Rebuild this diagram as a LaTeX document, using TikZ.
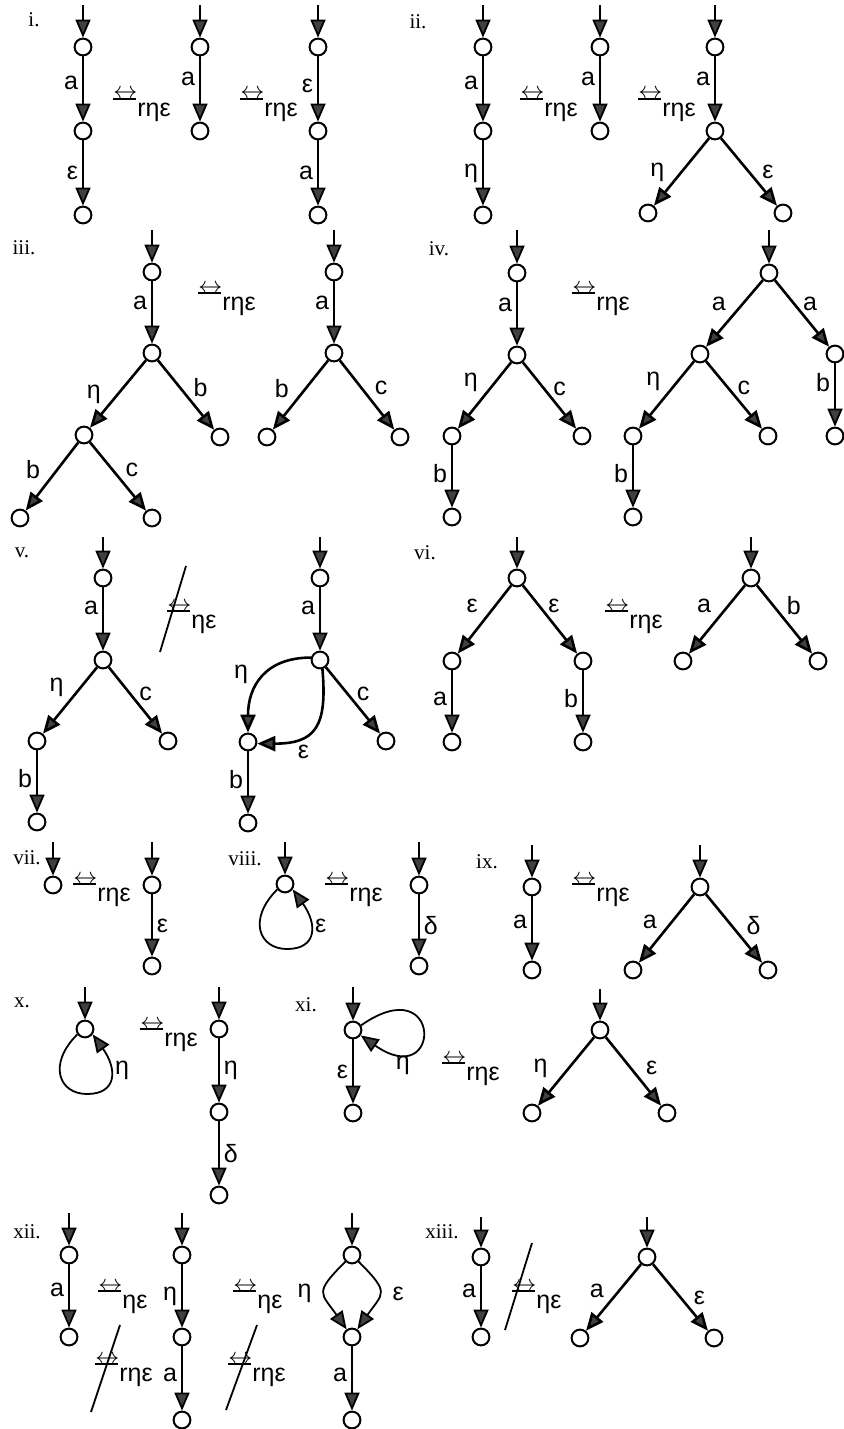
\documentclass[tikz,border=0pt]{standalone}
\usepackage{fontspec}
\setmainfont{Liberation Serif}
\newfontfamily\etichfont{Liberation Sans}
\usetikzlibrary{positioning, arrows.meta}

% simbolo di bisimulazione con pedice
\newcommand{\bisim}[1]{\rlap{\rule[-0.3pt]{11.5pt}{0.6pt}}$\leftrightarrow$\raisebox{-8.7pt}{#1}}

\begin{document}
\begin{tikzpicture}[x=0.5pt, y=-0.5pt,
	stato/.style={circle, draw, line width=1pt, minimum size=8.4pt, inner sep=0pt, fill=white},
	freccia/.style={-{Triangle[length=9pt, width=7.5pt, fill=black!75]}, line width=0.9pt},
	diag/.style={freccia, line width=1.3pt},
	etich/.style={font=\etichfont\fontsize{12.5}{14}\selectfont, inner sep=2pt},
	sez/.style={font=\fontsize{10.5}{12}\selectfont},
	rel/.style={anchor=base west, inner sep=0pt, font=\etichfont\fontsize{12.5}{14}\selectfont},
	barra/.style={line width=0.9pt}]
	\useasboundingbox (0,0) rectangle (843,1429);

	% Sezione i
	\node[sez] (li) at (34,20) {i.};
	\coordinate (ia0) at (83,5);
	\node[stato] (ia1) at (83,47) {};
	\node[stato] (ia2) at (83,131) {};
	\node[stato] (ia3) at (83,215) {};
	\draw[freccia] (ia0) -- (ia1);
	\draw[freccia] (ia1) -- node[etich, left, pos=0.4] {a} (ia2);
	\draw[freccia] (ia2) -- node[etich, left] {ε} (ia3);
	\node[rel] (ri1) at (113,99) {\bisim{rηε}};
	\coordinate (ib0) at (200,5);
	\node[stato] (ib1) at (200,47) {};
	\node[stato] (ib2) at (200,131) {};
	\draw[freccia] (ib0) -- (ib1);
	\draw[freccia] (ib1) -- node[etich, left, pos=0.35] {a} (ib2);
	\node[rel] (ri2) at (240,99) {\bisim{rηε}};
	\coordinate (ic0) at (318,5);
	\node[stato] (ic1) at (318,47) {};
	\node[stato] (ic2) at (318,131) {};
	\node[stato] (ic3) at (318,215) {};
	\draw[freccia] (ic0) -- (ic1);
	\draw[freccia] (ic1) -- node[etich, left, pos=0.45] {ε} (ic2);
	\draw[freccia] (ic2) -- node[etich, left] {a} (ic3);

	% Sezione ii
	\node[sez] (lii) at (418,22) {ii.};
	\coordinate (iid0) at (483,5);
	\node[stato] (iid1) at (483,47) {};
	\node[stato] (iid2) at (483,131) {};
	\node[stato] (iid3) at (483,215) {};
	\draw[freccia] (iid0) -- (iid1);
	\draw[freccia] (iid1) -- node[etich, left, pos=0.4] {a} (iid2);
	\draw[freccia] (iid2) -- node[etich, left] {η} (iid3);
	\node[rel] (rii1) at (520,99) {\bisim{rηε}};
	\coordinate (iie0) at (600,5);
	\node[stato] (iie1) at (600,47) {};
	\node[stato] (iie2) at (600,131) {};
	\draw[freccia] (iie0) -- (iie1);
	\draw[freccia] (iie1) -- node[etich, left, pos=0.35] {a} (iie2);
	\node[rel] (rii2) at (638,99) {\bisim{rηε}};
	\coordinate (iif0) at (715,5);
	\node[stato] (iif1) at (715,47) {};
	\node[stato] (iif2) at (715,131) {};
	\node[stato] (iif3) at (648,213) {};
	\node[stato] (iif4) at (783,213) {};
	\draw[freccia] (iif0) -- (iif1);
	\draw[freccia] (iif1) -- node[etich, left, pos=0.35] {a} (iif2);
	\draw[diag] (iif2) -- node[etich, left=6pt, pos=0.5] {η} (iif3);
	\draw[diag] (iif2) -- node[etich, right=4pt, pos=0.5] {ε} (iif4);

	% Sezione iii
	\node[sez] (liii) at (24,248) {iii.};
	\coordinate (iiia0) at (152,230);
	\node[stato] (iiia1) at (152,272) {};
	\node[stato] (iiia2) at (152,353) {};
	\node[stato] (iiia3) at (84,435) {};
	\node[stato] (iiia4) at (220,437) {};
	\node[stato] (iiia5) at (20,518) {};
	\node[stato] (iiia6) at (152,518) {};
	\draw[freccia] (iiia0) -- (iiia1);
	\draw[freccia] (iiia1) -- node[etich, left, pos=0.35] {a} (iiia2);
	\draw[diag] (iiia2) -- node[etich, left=6pt, pos=0.5] {η} (iiia3);
	\draw[diag] (iiia2) -- node[etich, right=4pt, pos=0.4] {b} (iiia4);
	\draw[diag] (iiia3) -- node[etich, left=6pt, pos=0.4] {b} (iiia5);
	\draw[diag] (iiia3) -- node[etich, right=4pt, pos=0.4] {c} (iiia6);
	\node[rel] (riii) at (198,293) {\bisim{rηε}};
	\coordinate (iiib0) at (334,230);
	\node[stato] (iiib1) at (334,272) {};
	\node[stato] (iiib2) at (334,353) {};
	\node[stato] (iiib3) at (267,437) {};
	\node[stato] (iiib4) at (400,437) {};
	\draw[freccia] (iiib0) -- (iiib1);
	\draw[freccia] (iiib1) -- node[etich, left, pos=0.35] {a} (iiib2);
	\draw[diag] (iiib2) -- node[etich, left=6pt, pos=0.4] {b} (iiib3);
	\draw[diag] (iiib2) -- node[etich, right=4pt, pos=0.4] {c} (iiib4);

	% Sezione iv
	\node[sez] (liv) at (439,249) {iv.};
	\coordinate (iva0) at (517,230);
	\node[stato] (iva1) at (517,273) {};
	\node[stato] (iva2) at (517,355) {};
	\node[stato] (iva3) at (452,436) {};
	\node[stato] (iva4) at (582,436) {};
	\node[stato] (iva5) at (452,517) {};
	\draw[freccia] (iva0) -- (iva1);
	\draw[freccia] (iva1) -- node[etich, left, pos=0.35] {a} (iva2);
	\draw[diag] (iva2) -- node[etich, left=6pt, pos=0.3] {η} (iva3);
	\draw[diag] (iva2) -- node[etich, right=2pt, pos=0.4] {c} (iva4);
	\draw[freccia] (iva3) -- node[etich, left, pos=0.45] {b} (iva5);
	\node[rel] (riv) at (572,293) {\bisim{rηε}};
	\coordinate (ivb0) at (769,230);
	\node[stato] (ivb1) at (769,273) {};
	\node[stato] (ivb2) at (700,354) {};
	\node[stato] (ivb3) at (835,354) {};
	\node[stato] (ivb4) at (633,436) {};
	\node[stato] (ivb5) at (768,436) {};
	\node[stato] (ivb6) at (633,517) {};
	\node[stato] (ivb7) at (835,436) {};
	\draw[freccia] (ivb0) -- (ivb1);
	\draw[diag] (ivb1) -- node[etich, left=6pt, pos=0.35] {a} (ivb2);
	\draw[diag] (ivb1) -- node[etich, right=2pt, pos=0.35] {a} (ivb3);
	\draw[diag] (ivb2) -- node[etich, left=6pt, pos=0.3] {η} (ivb4);
	\draw[diag] (ivb2) -- node[etich, right=2pt, pos=0.4] {c} (ivb5);
	\draw[freccia] (ivb4) -- node[etich, left, pos=0.45] {b} (ivb6);
	\draw[freccia] (ivb3) -- node[etich, left, pos=0.3] {b} (ivb7);

	% Sezione v
	\node[sez] (lv) at (22,553) {v.};
	\coordinate (va0) at (103,537);
	\node[stato] (va1) at (103,578) {};
	\node[stato] (va2) at (103,660) {};
	\node[stato] (va3) at (37,741) {};
	\node[stato] (va4) at (168,741) {};
	\node[stato] (va5) at (37,822) {};
	\draw[freccia] (va0) -- (va1);
	\draw[freccia] (va1) -- node[etich, left, pos=0.32] {a} (va2);
	\draw[diag] (va2) -- node[etich, left=6pt, pos=0.3] {η} (va3);
	\draw[diag] (va2) -- node[etich, right=2pt, pos=0.4] {c} (va4);
	\draw[freccia] (va3) -- node[etich, left, pos=0.45] {b} (va5);
	\node[rel] (rv) at (167,611) {\bisim{ηε}};
	\draw[barra] ([shift={(19,-45)}]rv.base west) -- ([shift={(-7,41)}]rv.base west);
	\coordinate (vb0) at (320,537);
	\node[stato] (vb1) at (320,578) {};
	\node[stato] (vb2) at (320,660) {};
	\node[stato] (vb3) at (248,742) {};
	\node[stato] (vb4) at (386,741) {};
	\node[stato] (vb5) at (248,823) {};
	\draw[freccia] (vb0) -- (vb1);
	\draw[freccia] (vb1) -- node[etich, left, pos=0.32] {a} (vb2);
	\draw[diag] (vb2) -- node[etich, right=2pt, pos=0.4] {c} (vb4);
	\draw[diag] (vb2.165) to[out=180, in=90, looseness=1.2] node[etich, left=6pt, pos=0.45] {η} (vb3);
	\draw[diag] (vb2.-75) to[out=-85, in=0, looseness=1.5] node[etich, below right, pos=0.75] {ε} (vb3.-10);
	\draw[freccia] (vb3) -- node[etich, left, pos=0.45] {b} (vb5);

	% Sezione vi
	\node[sez] (lvi) at (425,553) {vi.};
	\coordinate (via0) at (517,537);
	\node[stato] (via1) at (517,578) {};
	\node[stato] (via2) at (452,661) {};
	\node[stato] (via3) at (583,661) {};
	\node[stato] (via4) at (452,742) {};
	\node[stato] (via5) at (583,742) {};
	\draw[freccia] (via0) -- (via1);
	\draw[diag] (via1) -- node[etich, left=6pt, pos=0.3] {ε} (via2);
	\draw[diag] (via1) -- node[etich, right=2pt, pos=0.3] {ε} (via3);
	\draw[freccia] (via2) -- node[etich, left, pos=0.45] {a} (via4);
	\draw[freccia] (via3) -- node[etich, left, pos=0.45] {b} (via5);
	\node[rel] (rvi) at (605,611) {\bisim{rηε}};
	\coordinate (vib0) at (751,537);
	\node[stato] (vib1) at (751,578) {};
	\node[stato] (vib2) at (683,661) {};
	\node[stato] (vib3) at (818,661) {};
	\draw[freccia] (vib0) -- (vib1);
	\draw[diag] (vib1) -- node[etich, left=6pt, pos=0.3] {a} (vib2);
	\draw[diag] (vib1) -- node[etich, right=4pt, pos=0.3] {b} (vib3);

	% Sezione vii
	\node[sez] (lvii) at (27,858) {vii.};
	\coordinate (viia0) at (53,842);
	\node[stato] (viia1) at (53,885) {};
	\draw[freccia] (viia0) -- (viia1);
	\node[rel] (rvii) at (73,884) {\bisim{rηε}};
	\coordinate (viib0) at (152,842);
	\node[stato] (viib1) at (152,885) {};
	\node[stato] (viib2) at (152,966) {};
	\draw[freccia] (viib0) -- (viib1);
	\draw[freccia] (viib1) -- node[etich, right] {ε} (viib2);

	% Sezione viii
	\node[sez] (lviii) at (245,859) {viii.};
	\coordinate (viiia0) at (285,842);
	\node[stato] (viiia1) at (285,884) {};
	\draw[freccia] (viiia0) -- (viiia1);
	\draw[freccia] (viiia1.215) .. controls +(-30,30) and +(-28,0) .. ([shift={(2,65)}]viiia1.center)
		.. controls +(30,0) and +(25,35) .. (viiia1.-35) node[etich, right, pos=0.6] {ε};
	\node[rel] (rviii) at (325,884) {\bisim{rηε}};
	\coordinate (viiib0) at (419,842);
	\node[stato] (viiib1) at (419,885) {};
	\node[stato] (viiib2) at (419,966) {};
	\draw[freccia] (viiib0) -- (viiib1);
	\draw[freccia] (viiib1) -- node[etich, right] {δ} (viiib2);

	% Sezione ix
	\node[sez] (lix) at (487,862) {ix.};
	\coordinate (ixa0) at (532,845);
	\node[stato] (ixa1) at (532,887) {};
	\node[stato] (ixa2) at (532,970) {};
	\draw[freccia] (ixa0) -- (ixa1);
	\draw[freccia] (ixa1) -- node[etich, left, pos=0.4] {a} (ixa2);
	\node[rel] (rix) at (572,884) {\bisim{rηε}};
	\coordinate (ixb0) at (700,845);
	\node[stato] (ixb1) at (700,887) {};
	\node[stato] (ixb2) at (633,970) {};
	\node[stato] (ixb3) at (768,970) {};
	\draw[freccia] (ixb0) -- (ixb1);
	\draw[diag] (ixb1) -- node[etich, left=5pt, pos=0.4] {a} (ixb2);
	\draw[diag] (ixb1) -- node[etich, right=5pt, pos=0.45] {δ} (ixb3);

	% Sezione x
	\node[sez] (lx) at (22,1003) {x.};
	\coordinate (xa0) at (85,987);
	\node[stato] (xa1) at (85,1029) {};
	\draw[freccia] (xa0) -- (xa1);
	\draw[freccia] (xa1.215) .. controls +(-30,30) and +(-28,0) .. ([shift={(2,65)}]xa1.center)
		.. controls +(30,0) and +(25,35) .. (xa1.-35) node[etich, right, pos=0.6] {η};
	\node[rel] (rx) at (140,1029) {\bisim{rηε}};
	\coordinate (xb0) at (219,987);
	\node[stato] (xb1) at (219,1029) {};
	\node[stato] (xb2) at (219,1112) {};
	\node[stato] (xb3) at (219,1195) {};
	\draw[freccia] (xb0) -- (xb1);
	\draw[freccia] (xb1) -- node[etich, right] {η} (xb2);
	\draw[freccia] (xb2) -- node[etich, right] {δ} (xb3);

	% Sezione xi
	\node[sez] (lxi) at (306,1005) {xi.};
	\coordinate (xia0) at (353,987);
	\node[stato] (xia1) at (353,1030) {};
	\node[stato] (xia2) at (353,1113) {};
	\draw[freccia] (xia0) -- (xia1);
	\draw[freccia] (xia1.30) to[out=35, in=-35, distance=50pt] node[etich, below, pos=0.78] {η} (xia1.-35);
	\draw[freccia] (xia1) -- node[etich, left] {ε} (xia2);
	\node[rel] (rxi) at (442,1063) {\bisim{rηε}};
	\coordinate (xib0) at (600,989);
	\node[stato] (xib1) at (600,1030) {};
	\node[stato] (xib2) at (532,1113) {};
	\node[stato] (xib3) at (667,1113) {};
	\draw[freccia] (xib0) -- (xib1);
	\draw[diag] (xib1) -- node[etich, left=8pt, pos=0.45] {η} (xib2);
	\draw[diag] (xib1) -- node[etich, right=5pt, pos=0.45] {ε} (xib3);

	% Sezione xii
	\node[sez] (lxii) at (27,1232) {xii.};
	\coordinate (xiia0) at (69,1213);
	\node[stato] (xiia1) at (69,1255) {};
	\node[stato] (xiia2) at (69,1337) {};
	\draw[freccia] (xiia0) -- (xiia1);
	\draw[freccia] (xiia1) -- node[etich, left, pos=0.4] {a} (xiia2);
	\node[rel] (rxii1) at (98,1291) {\bisim{ηε}};
	\node[rel] (rxii2) at (95,1364) {\bisim{rηε}};
	\draw[barra] ([shift={(25,-39)}]rxii2.base west) -- ([shift={(-4,48)}]rxii2.base west);
	\coordinate (xiib0) at (182,1213);
	\node[stato] (xiib1) at (182,1255) {};
	\node[stato] (xiib2) at (182,1337) {};
	\node[stato] (xiib3) at (182,1420) {};
	\draw[freccia] (xiib0) -- (xiib1);
	\draw[freccia] (xiib1) -- node[etich, left] {η} (xiib2);
	\draw[freccia] (xiib2) -- node[etich, left, pos=0.45] {a} (xiib3);
	\node[rel] (rxii3) at (233,1291) {\bisim{ηε}};
	\node[rel] (rxii4) at (228,1364) {\bisim{rηε}};
	\draw[barra] ([shift={(29,-39)}]rxii4.base west) -- ([shift={(-2,46)}]rxii4.base west);
	\coordinate (xiic0) at (352,1213);
	\node[stato] (xiic1) at (352,1255) {};
	\node[stato] (xiic2) at (352,1337) {};
	\node[stato] (xiic3) at (352,1420) {};
	\draw[freccia] (xiic0) -- (xiic1);
	\draw[freccia] (xiic1.225) to[out=225, in=125, looseness=1.7] node[etich, left=4pt] {η} (xiic2.125);
	\draw[freccia] (xiic1.-45) to[out=-45, in=55, looseness=1.7] node[etich, right=4pt] {ε} (xiic2.55);
	\draw[freccia] (xiic2) -- node[etich, left, pos=0.45] {a} (xiic3);

	% Sezione xiii
	\node[sez] (lxiii) at (442,1232) {xiii.};
	\coordinate (xiiia0) at (481,1217);
	\node[stato] (xiiia1) at (481,1257) {};
	\node[stato] (xiiia2) at (481,1337) {};
	\draw[freccia] (xiiia0) -- (xiiia1);
	\draw[freccia] (xiiia1) -- node[etich, left, pos=0.4] {a} (xiiia2);
	\node[rel] (rxiii) at (512,1291) {\bisim{ηε}};
	\draw[barra] ([shift={(20,-48)}]rxiii.base west) -- ([shift={(-7,39)}]rxiii.base west);
	\coordinate (xiiib0) at (647,1217);
	\node[stato] (xiiib1) at (647,1257) {};
	\node[stato] (xiiib2) at (580,1338) {};
	\node[stato] (xiiib3) at (714,1338) {};
	\draw[freccia] (xiiib0) -- (xiiib1);
	\draw[diag] (xiiib1) -- node[etich, left=5pt, pos=0.4] {a} (xiiib2);
	\draw[diag] (xiiib1) -- node[etich, right=4pt, pos=0.5] {ε} (xiiib3);
\end{tikzpicture}
\end{document}
